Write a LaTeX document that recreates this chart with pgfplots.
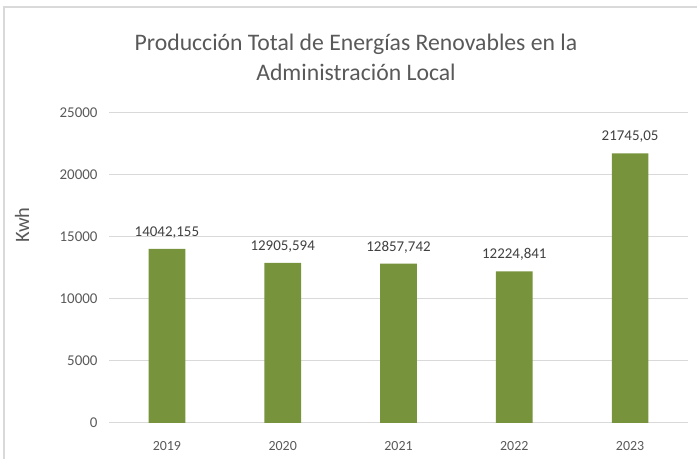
\documentclass[border=0pt]{standalone}
\usepackage{pgfplots}
\pgfplotsset{compat=1.18}
\usepackage{fontspec}
\setmainfont{Carlito}
\definecolor{barc}{HTML}{77933C}
\definecolor{gridc}{HTML}{D9D9D9}
\definecolor{txt}{HTML}{595959}
\definecolor{lbl}{HTML}{404040}
\pgfplotstableread{
x y lab
0 14042.155 14042,155
1 12905.594 12905,594
2 12857.742 12857,742
3 12224.841 12224,841
4 21745.05 21745,05
}\datatab
\begin{document}
\begin{tikzpicture}[x=1bp,y=1bp]
\path[use as bounding box] (0,0) rectangle (697,459);
\draw[gridc, line width=1.5bp] (4,0) -- (4,452) -- (697,452);
\node[txt, font=\fontsize{23.8}{30}\selectfont, align=center] at (356,402) {Producción Total de Energías Renovables en la\\Administración Local};
\node[txt, font=\fontsize{20.5}{22}\selectfont, rotate=90] at (22,234) {Kwh};
\begin{axis}[at={(109bp,36bp)}, anchor=south west, scale only axis,
  width=579bp, height=310bp,
  xmin=-0.5, xmax=4.5, ymin=0, ymax=25000,
  ytick={0,5000,10000,15000,20000,25000},
  scaled y ticks=false,
  xtick={0,1,2,3,4}, xticklabels={2019,2020,2021,2022,2023},
  axis line style={draw=none}, major tick style={draw=none},
  ymajorgrids, grid style={gridc, line width=1bp},
  /pgf/number format/assume math mode=true,
  /pgf/number format/1000 sep={},
  yticklabel style={txt, font=\fontsize{15}{17}\selectfont, xshift=-8bp},
  xticklabel style={txt, font=\fontsize{14}{16}\selectfont, yshift=-11bp},
  ybar, bar width=36.7bp,
  nodes near coords, point meta=explicit symbolic,
  every node near coord/.append style={lbl, font=\fontsize{15}{17}\selectfont, yshift=7bp},
  clip=false]
\addplot[fill=barc, draw=none] table[x=x, y=y, meta=lab] {\datatab};
\end{axis}
\end{tikzpicture}
\end{document}
